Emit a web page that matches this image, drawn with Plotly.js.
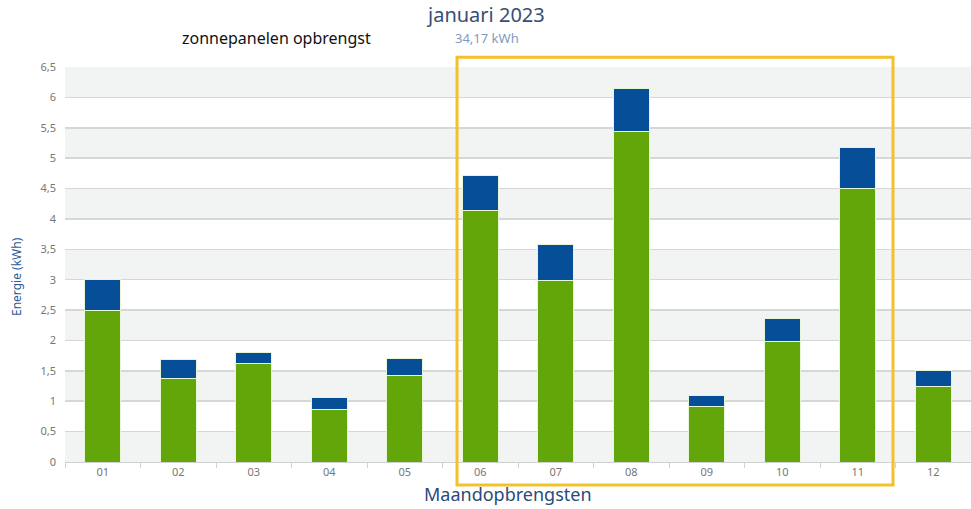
<!DOCTYPE html>
<html>
<head>
<meta charset="utf-8">
<script src="https://cdn.plot.ly/plotly-3.0.1.min.js"></script>
<style>html,body{margin:0;padding:0;background:#fff;}#chart{width:971px;height:509px;}</style>
</head>
<body>
<div id="chart"></div>
<script>
// Data
const months = ["01","02","03","04","05","06","07","08","09","10","11","12"];
const greenValues = [2.50, 1.38, 1.62, 0.87, 1.42, 4.14, 2.99, 5.44, 0.91, 1.98, 4.50, 1.24];
const blueValues  = [0.51, 0.31, 0.18, 0.19, 0.29, 0.58, 0.59, 0.70, 0.19, 0.38, 0.68, 0.27];
const yTickVals = [0, 0.5, 1, 1.5, 2, 2.5, 3, 3.5, 4, 4.5, 5, 5.5, 6, 6.5];
const yTickText = ["0","0,5","1","1,5","2","2,5","3","3,5","4","4,5","5","5,5","6","6,5"];
const chartTitle = "januari 2023";
const chartSubtitle = "34,17 kWh";
const leftTitle = "zonnepanelen opbrengst";
const yTitle = "Energie (kWh)";
const xTitle = "Maandopbrengsten";

const traces = [
  {type:"bar", x: months, y: greenValues, name:"green",
   marker:{color:"#62a60a", line:{color:"#e6f5d6", width:1}}},
  {type:"bar", x: months, y: blueValues, name:"blue",
   marker:{color:"#064f98", line:{color:"#e6f5d6", width:1}}}
];

// alternating background bands
const shapes = [];
for (let i = 0; i + 1 < yTickVals.length; i += 2) {
  shapes.push({type:"rect", xref:"paper", yref:"y", x0:0, x1:1,
    y0:yTickVals[i], y1:yTickVals[i+1], fillcolor:"#f2f3f3", line:{width:0}, layer:"below"});
}
// highlight box
shapes.push({type:"rect", xref:"paper", yref:"paper", x0:0.4327, x1:0.9139, y0:-0.058, y1:1.025,
  line:{color:"#f3c12b", width:3}, fillcolor:"rgba(0,0,0,0)", layer:"above"});

const PX = (x) => (x - 65) / 906;
const PY = (y) => (462 - y) / 395;

const layout = {
  width:971, height:509,
  margin:{l:65, r:0, t:67, b:47},
  paper_bgcolor:"#ffffff", plot_bgcolor:"#ffffff",
  barmode:"stack", bargap:0.52,
  showlegend:false,
  font:{family:"Noto Sans, Open Sans, sans-serif", color:"#777"},
  xaxis:{
    type:"category", range:[-0.5, 11.5], showgrid:false, zeroline:false,
    showline:true, linecolor:"#cfd1d1", linewidth:1,
    ticks:"outside", tickson:"boundaries", ticklen:5, tickcolor:"#cfd1d1",
    tickfont:{size:11, color:"#777"}, fixedrange:true
  },
  yaxis:{
    range:[0, 6.5], tickvals:yTickVals, ticktext:yTickText,
    showgrid:true, gridcolor:"#d6d8d8", gridwidth:1.6, zeroline:false,
    ticks:"", tickfont:{size:11, color:"#777"}, ticklabelstandoff:8
  },
  shapes: shapes,
  annotations:[
    {text:chartTitle, xref:"paper", yref:"paper", x:PX(485), y:PY(15), xanchor:"center", yanchor:"middle",
     showarrow:false, font:{size:20, color:"#3b4d70"}},
    {text:chartSubtitle, xref:"paper", yref:"paper", x:PX(487), y:PY(38), xanchor:"center", yanchor:"middle",
     showarrow:false, font:{size:13, color:"#7f9bbf"}},
    {text:leftTitle, xref:"paper", yref:"paper", x:PX(276), y:PY(38), xanchor:"center", yanchor:"middle",
     showarrow:false, font:{size:16, color:"#111"}},
    {text:xTitle, xref:"paper", yref:"paper", x:PX(508), y:PY(494), xanchor:"center", yanchor:"middle",
     showarrow:false, font:{size:18, color:"#2b4a7a"}},
    {text:yTitle, xref:"paper", yref:"paper", x:PX(16), y:PY(277), xanchor:"center", yanchor:"middle",
     textangle:-90, showarrow:false, font:{size:12, color:"#2e5b9a"}}
  ]
};

Plotly.newPlot("chart", traces, layout, {displayModeBar:false, staticPlot:true});
</script>
</body>
</html>
